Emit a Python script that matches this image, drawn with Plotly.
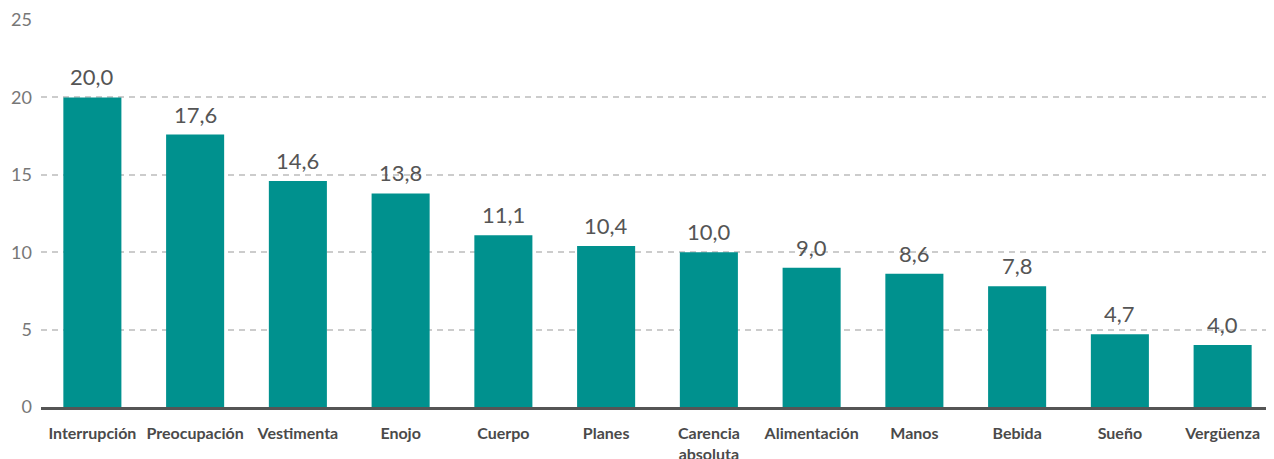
import plotly.graph_objects as go

categories = ["Interrupción", "Preocupación", "Vestimenta", "Enojo", "Cuerpo", "Planes",
              "Carencia<br>absoluta", "Alimentación", "Manos", "Bebida", "Sueño", "Vergüenza"]
values = [20.0, 17.6, 14.6, 13.8, 11.1, 10.4, 10.0, 9.0, 8.6, 7.8, 4.7, 4.0]
labels = [f"{v:.1f}".replace(".", ",") for v in values]
y_ticks = [0, 5, 10, 15, 20, 25]

fig = go.Figure(go.Bar(
    x=categories, y=values,
    marker=dict(color="#00918e", line=dict(width=0)),
))
for c, v, t in zip(categories, values, labels):
    fig.add_annotation(x=c, y=v, text=t, showarrow=False, yanchor="bottom", yshift=5,
                       font=dict(family="Lato, sans-serif", size=22, color="#555555"))
# page body has an 8px default margin; compensate so the plot area lands where the reference has it
fig.update_layout(
    width=1266, height=451,
    margin=dict(l=33, r=0, t=12, b=52),
    plot_bgcolor="white", paper_bgcolor="white",
    bargap=0.435,
    showlegend=False,
    font=dict(family="Lato, sans-serif"),
)
fig.update_xaxes(
    automargin=False,
    showline=True, linecolor="#555555", linewidth=3,
    tickfont=dict(family="Lato, sans-serif", size=16, color="#4a4a4a", weight="bold"),
    ticks="", showgrid=False, ticklabelstandoff=10,
)
fig.update_yaxes(
    automargin=False,
    range=[0, 25], tickvals=y_ticks, showgrid=True, gridcolor="#cccccc",
    griddash="6px,5px", gridwidth=1.5, zeroline=False, ticks="",
    tickfont=dict(family="Lato, sans-serif", size=18, color="#777777"),
    ticklabelstandoff=8,
)
fig.write_html("out.html")
